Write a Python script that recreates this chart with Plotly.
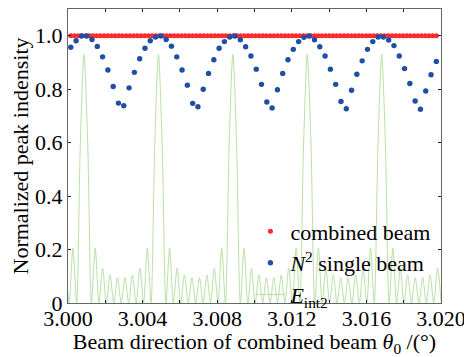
import numpy as np
import plotly.graph_objects as go

# ---- data ----
# combined beam: 100 samples, all at 1.0
red_x = np.linspace(3.00015, 3.01975, 100)
red_y = [1.0] * 100

# N^2 single beam: 70 samples
blue_x = np.linspace(3.00015, 3.01975, 70)
blue_y = [
    0.957, 0.981, 0.999, 0.999, 0.986, 0.960, 0.921, 0.872, 0.810, 0.748,
    0.738, 0.805, 0.863, 0.914, 0.953, 0.981, 0.995, 0.999, 0.986, 0.961,
    0.921, 0.872, 0.815, 0.747, 0.734, 0.800, 0.859, 0.910, 0.953, 0.978,
    0.995, 0.999, 0.985, 0.959, 0.924, 0.875, 0.818, 0.752, 0.730, 0.798,
    0.859, 0.910, 0.949, 0.978, 0.994, 0.999, 0.985, 0.959, 0.924, 0.875,
    0.818, 0.754, 0.727, 0.796, 0.856, 0.906, 0.949, 0.978, 0.995, 0.995,
    0.984, 0.963, 0.924, 0.877, 0.821, 0.756, 0.725, 0.793, 0.854, 0.904,
]

# E_int2: peaks, zeros and side lobes of the interference curve
green_x = [
    2.999663, 2.999863, 3.000062, 3.000262, 3.000461, 3.000660,
    3.000860, 3.001060, 3.001259, 3.001459, 3.001658, 3.001858, 3.002057, 3.002257, 3.002456, 3.002656,
    3.002855, 3.003055, 3.003254, 3.003454, 3.003653, 3.003853, 3.004052, 3.004252, 3.004451, 3.004650,
    3.004850, 3.005050, 3.005249, 3.005449, 3.005648, 3.005848, 3.006047, 3.006247, 3.006446, 3.006646,
    3.006845, 3.007045, 3.007244, 3.007444, 3.007643, 3.007843, 3.008042, 3.008242, 3.008441, 3.008640,
    3.008840, 3.009040, 3.009239, 3.009439, 3.009638, 3.009838, 3.010037, 3.010237, 3.010436, 3.010636,
    3.010835, 3.011035, 3.011234, 3.011434, 3.011633, 3.011833, 3.012032, 3.012232, 3.012431, 3.012630,
    3.012830, 3.013030, 3.013229, 3.013429, 3.013628, 3.013828, 3.014027, 3.014227, 3.014426, 3.014626,
    3.014825, 3.015025, 3.015224, 3.015424, 3.015623, 3.015823, 3.016022, 3.016222, 3.016421, 3.016620,
    3.016820, 3.017020, 3.017219, 3.017419, 3.017618, 3.017818, 3.018017, 3.018217, 3.018416, 3.018616,
    3.018815, 3.019015, 3.019214, 3.019414, 3.019613, 3.019813, 3.020012,
]
green_y = [
    0, 0.13, 0, 0.205, 0, 0.59,
    0.93, 0.59, 0, 0.205, 0, 0.13, 0, 0.105, 0, 0.095,
    0, 0.095, 0, 0.105, 0, 0.13, 0, 0.205, 0, 0.59,
    0.93, 0.59, 0, 0.205, 0, 0.13, 0, 0.105, 0, 0.095,
    0, 0.095, 0, 0.105, 0, 0.13, 0, 0.205, 0, 0.59,
    0.93, 0.59, 0, 0.205, 0, 0.13, 0, 0.105, 0, 0.095,
    0, 0.095, 0, 0.105, 0, 0.13, 0, 0.205, 0, 0.59,
    0.93, 0.59, 0, 0.205, 0, 0.13, 0, 0.105, 0, 0.095,
    0, 0.095, 0, 0.105, 0, 0.13, 0, 0.205, 0, 0.59,
    0.93, 0.59, 0, 0.205, 0, 0.13, 0, 0.105, 0, 0.095,
    0, 0.095, 0, 0.105, 0, 0.13, 0,
]

x_ticks = [3.000, 3.004, 3.008, 3.012, 3.016, 3.020]
x_ticktext = ["3.000", "3.004", "3.008", "3.012", "3.016", "3.020"]
y_ticks = [0, 0.2, 0.4, 0.6, 0.8, 1.0]
y_ticktext = ["0", "0.2", "0.4", "0.6", "0.8", "1.0"]

FONT = "Liberation Serif"

fig = go.Figure()
fig.add_trace(go.Scatter(
    x=green_x, y=green_y, mode="lines", name="<i>E</i><sub>int2</sub>",
    line=dict(color="#b9e0a5", width=1, shape="spline", smoothing=0.8),
    legendrank=3,
))
fig.add_trace(go.Scatter(
    x=red_x, y=red_y, mode="markers", name="combined beam",
    marker=dict(color="#ff2b2b", size=5), legendrank=1,
))
fig.add_trace(go.Scatter(
    x=blue_x, y=blue_y, mode="markers", name="<i>N</i><sup>2</sup> single beam",
    marker=dict(color="#1f4ea6", size=5.4), legendrank=2,
))

fig.update_layout(
    width=464, height=357,
    margin=dict(l=68, r=23, t=9, b=54, autoexpand=False),
    paper_bgcolor="white", plot_bgcolor="white",
    font=dict(family=FONT, size=22, color="black"),
    showlegend=True,
    legend=dict(x=0.489, y=0.315, xanchor="left", yanchor="top",
                bgcolor="rgba(0,0,0,0)", font=dict(family=FONT, size=22),
                itemwidth=30, tracegroupgap=0),
)
fig.update_xaxes(
    range=[3.0, 3.02], tickmode="array", tickvals=x_ticks, ticktext=x_ticktext,
    ticklabeloverflow="allow", automargin=False, ticklabelstandoff=-4,
    tickfont=dict(family=FONT, size=22),
    ticks="inside", ticklen=3, tickcolor="#222", showgrid=False, zeroline=False,
    showline=True, linecolor="#666", linewidth=1, mirror="ticks",
    minor=dict(tickmode="linear", tick0=3.0, dtick=0.002, ticks="inside", ticklen=3, tickcolor="#222"),
    title=dict(text="Beam direction of combined beam <i>θ</i><sub>0</sub> /(°)", standoff=0,
               font=dict(family=FONT, size=22)),
)
fig.update_yaxes(
    range=[0, 1.1], tickmode="array", tickvals=y_ticks, ticktext=y_ticktext,
    automargin=False,
    tickfont=dict(family=FONT, size=22),
    ticks="inside", ticklen=3, tickcolor="#222", showgrid=False, zeroline=False,
    showline=True, linecolor="#666", linewidth=1, mirror="ticks",
    title=dict(text="Normalized peak indensity", standoff=0, font=dict(family=FONT, size=22)),
)

fig.write_html("out.html", config={"displayModeBar": False},
               post_script="document.body.style.margin='0';document.body.style.overflow='hidden';")
